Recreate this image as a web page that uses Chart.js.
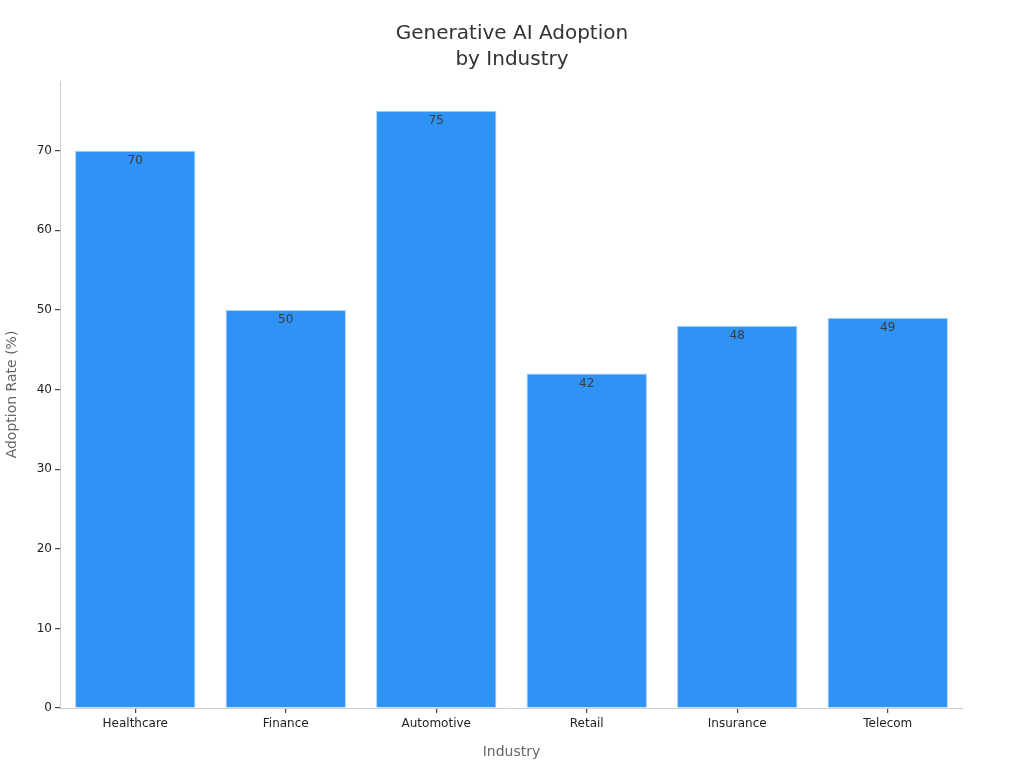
<!DOCTYPE html>
<html><head><meta charset="utf-8">
<script src="https://cdn.jsdelivr.net/npm/chart.js@4.4.0/dist/chart.umd.min.js"></script>
<style>html,body{margin:0;padding:0;background:#fff}#wrap{width:1024px;height:768px}</style>
</head><body><div id="wrap"><canvas id="c" width="1024" height="768"></canvas></div>
<script>
const categories = ["Healthcare","Finance","Automotive","Retail","Insurance","Telecom"];
const adoption = [70,50,75,42,48,49];
const yTicks = [0,10,20,30,40,50,60,70];
const titleLines = ['Generative AI Adoption','by Industry'];

const labelPlugin = {
  id:'lbl',
  afterDatasetsDraw(chart){
    const ctx = chart.ctx;
    const meta = chart.getDatasetMeta(0);
    ctx.save();
    ctx.font = '12px "DejaVu Sans"';
    ctx.fillStyle = '#3a3a3a';
    ctx.textAlign = 'center';
    ctx.textBaseline = 'top';
    meta.data.forEach((b,i)=>{
      ctx.fillText(String(adoption[i]), b.x, b.y + 4);
    });
    ctx.restore();
  }
};
const titlePlugin = {
  id:'ttl',
  afterDraw(chart){
    const ctx = chart.ctx;
    ctx.save();
    ctx.font = '20px "DejaVu Sans"';
    ctx.fillStyle = '#333';
    ctx.textAlign = 'center';
    ctx.textBaseline = 'middle';
    ctx.fillText(titleLines[0], chart.width/2, 34);
    ctx.fillText(titleLines[1], chart.width/2, 60);
    ctx.restore();
  }
};

new Chart(document.getElementById('c'), {
  type:'bar',
  data:{labels:categories, datasets:[{data:adoption, backgroundColor:'#2F93F6', borderColor:'#A8D4FA', borderWidth:1, barPercentage:0.8, categoryPercentage:1}]},
  options:{
    responsive:false, animation:false,
    layout:{padding:{left:0,right:61,top:81,bottom:0}},
    plugins:{ legend:{display:false}, tooltip:{enabled:false}, title:{display:false} },
    scales:{
      x:{
        grid:{display:true, offset:false, drawOnChartArea:false, drawTicks:true, tickLength:5, tickColor:'#444', lineWidth:1.2},
        border:{display:true, color:'#ccc'},
        ticks:{color:'#222', font:{family:'DejaVu Sans', size:12}, padding:4},
        title:{display:true, text:'Industry', color:'#666', font:{family:'DejaVu Sans', size:14}, padding:{top:4,bottom:7}},
        afterFit(s){ s.height = 60; }
      },
      y:{
        min:0, max:78.75,
        afterBuildTicks(s){ s.ticks = yTicks.map(v=>({value:v})); },
        grid:{display:true, drawOnChartArea:false, drawTicks:true, tickLength:5, tickColor:'#444', lineWidth:1.2},
        border:{display:true, color:'#ccc'},
        ticks:{color:'#222', font:{family:'DejaVu Sans', size:12}, padding:3},
        title:{display:true, text:'Adoption Rate (%)', color:'#666', font:{family:'DejaVu Sans', size:14}, padding:{top:4,bottom:10}},
        afterFit(s){ s.width = 60; }
      }
    }
  },
  plugins:[labelPlugin, titlePlugin]
});
</script></body></html>
